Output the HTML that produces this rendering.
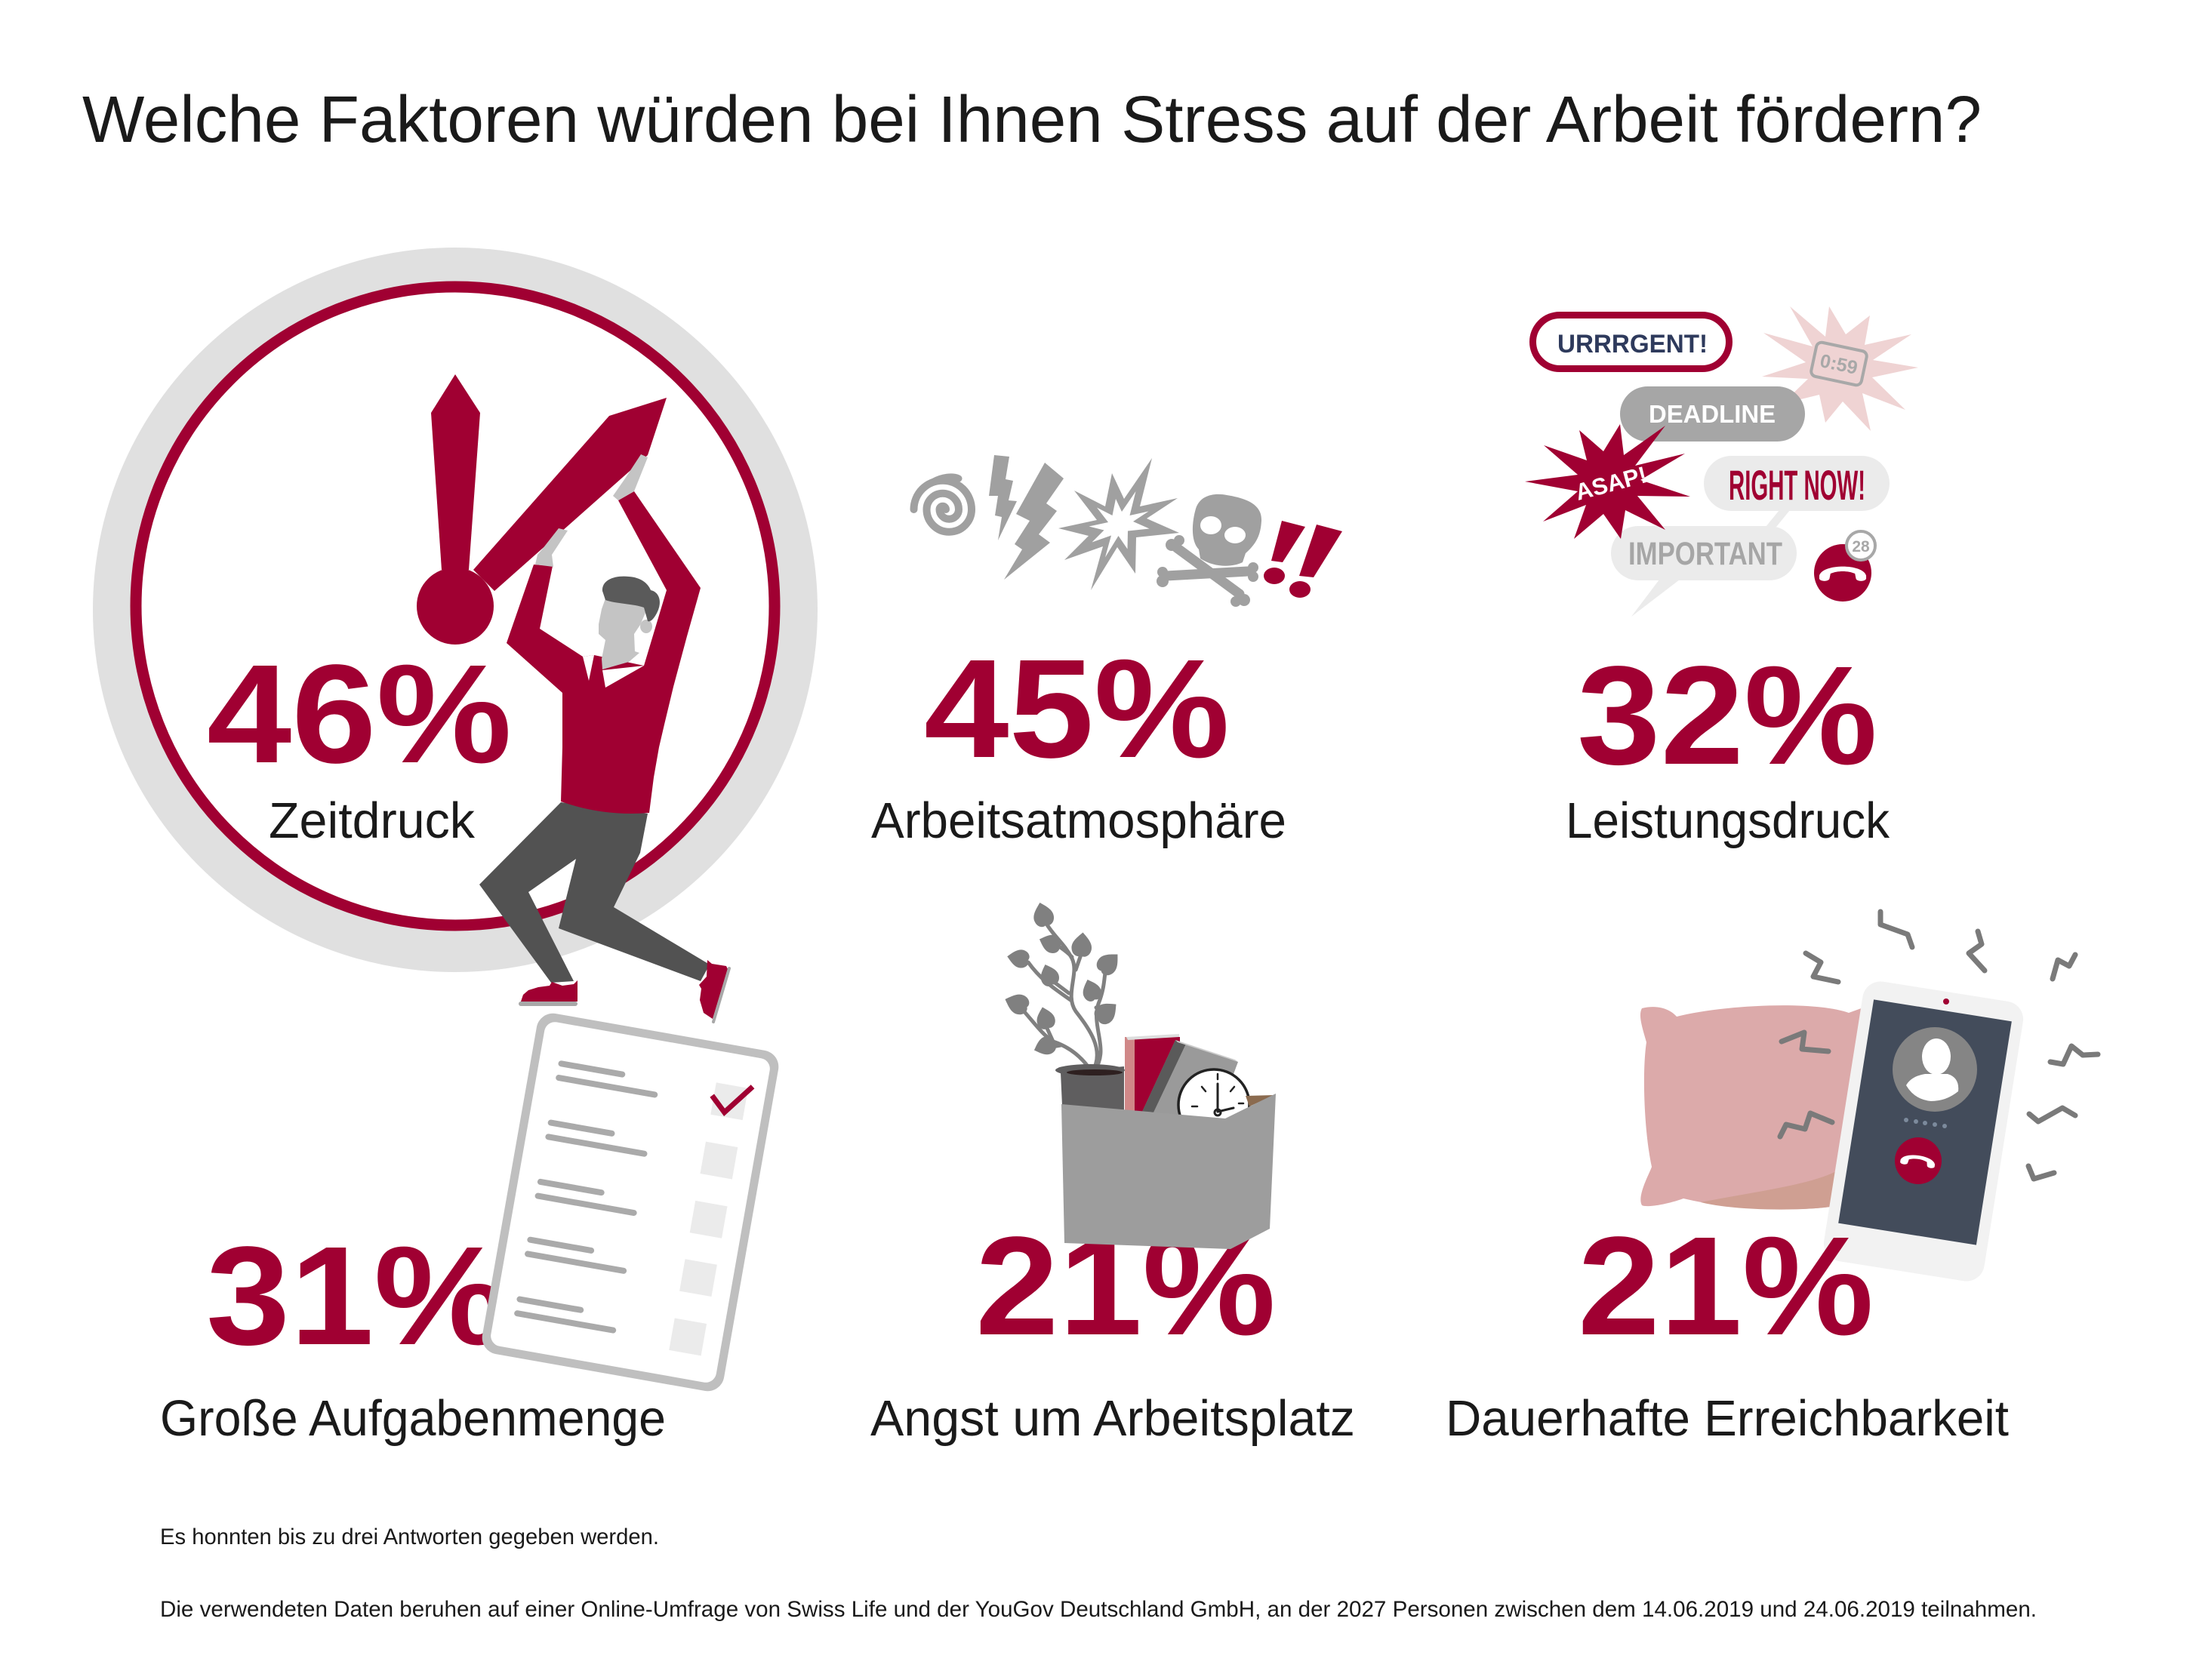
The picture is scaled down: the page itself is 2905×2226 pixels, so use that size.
<!DOCTYPE html>
<html>
<head>
<meta charset="utf-8">
<style>
html,body{margin:0;padding:0;background:#fff;}
svg{display:block;}
</style>
</head>
<body>
<svg width="2905" height="2226" viewBox="0 0 2905 2226" xmlns="http://www.w3.org/2000/svg">
<rect width="2905" height="2226" fill="#ffffff"/>

<!-- Title -->
<text x="109" y="188" font-family="'Liberation Sans', sans-serif" font-size="87" fill="#1a1a1a" textLength="2516" lengthAdjust="spacingAndGlyphs">Welche Faktoren würden bei Ihnen Stress auf der Arbeit fördern?</text>

<!-- ========== Clock circle (Zeitdruck) ========== -->
<circle cx="603" cy="808" r="480" fill="#e0e0e0"/>
<circle cx="603" cy="803" r="423" fill="#ffffff" stroke="#a00032" stroke-width="15"/>
<!-- clock hands -->
<polygon points="603,496 636,547 621,755 585,755 571,547" fill="#a00032"/>
<polygon points="627,755 807,551 883,527 858,603 655,783" fill="#a00032"/>
<circle cx="603" cy="803" r="51" fill="#a00032"/>

<text x="274" y="1010" font-family="'Liberation Sans', sans-serif" font-weight="bold" font-size="186" fill="#a00032" textLength="404" lengthAdjust="spacingAndGlyphs">46%</text>
<text x="356" y="1110" font-family="'Liberation Sans', sans-serif" font-size="67" fill="#1a1a1a" textLength="273" lengthAdjust="spacingAndGlyphs">Zeitdruck</text>

<!-- Man -->
<polygon points="743,1063 858,1078 848,1130 813,1202 940,1278 928,1300 740,1230 763,1138 700,1182 760,1300 730,1302 635,1172" fill="#525252"/>
<path d="M819,663 L840,651 L928,779 L910,843 L892,910 L880,960 L873,990 L866,1030 L860,1077 Q800,1082 743,1062 L745,990 L745,918 L671,852 L707,748 L732,750 L715,833 L772,870 L787,868 L853,882 L883,782 Z" fill="#a00032"/>
<!-- hands -->
<polygon points="812,657 819,663 840,651 858,606 849,602 828,634" fill="#c4c4c4"/>
<polygon points="709,748 733,751 731,735 752,703 740,700 718,728 712,735" fill="#c4c4c4"/>
<!-- face -->
<polygon points="802,793 853,803 855,812 848,828 840,840 841,863 847,865 833,877 798,887 797,873 802,848 793,840 793,827 797,807" fill="#c4c4c4"/>
<ellipse cx="856" cy="830" rx="8" ry="9" fill="#c4c4c4"/>
<path d="M798,783 C797,768 815,762 833,764 C848,765 858,772 862,782 C872,784 877,795 872,808 C868,818 862,825 858,823 L853,805 C840,800 815,800 802,795 Z" fill="#5a5a5a"/>
<!-- collar -->
<polygon points="772,870 787,868 780,902" fill="#ffffff"/>
<polygon points="798,888 853,882 802,911" fill="#ffffff"/>
<!-- shoes -->
<polygon points="690,1327 693,1318 700,1312 713,1308 728,1306 731,1301 745,1306 760,1304 765,1299 765,1327" fill="#a00032"/>
<rect x="687" y="1327" width="78" height="6" rx="3" fill="#a8a8a8"/>
<polygon points="937,1272 943,1277 962,1280 964,1284 944,1350 932,1342 927,1325 929,1310 926,1305 936,1294" fill="#a00032"/>
<line x1="966" y1="1283" x2="945" y2="1354" stroke="#a8a8a8" stroke-width="4" stroke-linecap="round"/>

<!-- ========== 31% + clipboard ========== -->
<text x="273" y="1781" font-family="'Liberation Sans', sans-serif" font-weight="bold" font-size="186" fill="#a00032" textLength="400" lengthAdjust="spacingAndGlyphs">31%</text>
<g transform="translate(835,1593) rotate(10)">
  <rect x="-162.5" y="-229" width="325" height="458" rx="22" fill="#bfbfbf"/>
  <rect x="-151.5" y="-218" width="303" height="436" rx="14" fill="#ffffff"/>
  <g stroke="#aaaaaa" stroke-width="8" stroke-linecap="round">
    <line x1="-122" y1="-165" x2="-40" y2="-165"/>
    <line x1="-122" y1="-146" x2="7" y2="-146"/>
    <line x1="-122" y1="-85.5" x2="-40" y2="-85.5"/>
    <line x1="-122" y1="-66.5" x2="7" y2="-66.5"/>
    <line x1="-122" y1="-6" x2="-40" y2="-6"/>
    <line x1="-122" y1="13" x2="7" y2="13"/>
    <line x1="-122" y1="72" x2="-40" y2="72"/>
    <line x1="-122" y1="91" x2="7" y2="91"/>
    <line x1="-122" y1="152" x2="-40" y2="152"/>
    <line x1="-122" y1="171" x2="7" y2="171"/>
  </g>
  <g fill="#ebebeb">
    <rect x="84.5" y="-176" width="43" height="43"/>
    <rect x="84.5" y="-96.5" width="43" height="43"/>
    <rect x="84.5" y="-17" width="43" height="43"/>
    <rect x="84.5" y="61.5" width="43" height="43"/>
    <rect x="84.5" y="141" width="43" height="43"/>
  </g>
  <polyline points="82,-158 102,-139 133,-179" fill="none" stroke="#a00032" stroke-width="7" stroke-linejoin="miter"/>
</g>
<text x="212" y="1902" font-family="'Liberation Sans', sans-serif" font-size="67" fill="#1a1a1a" textLength="670" lengthAdjust="spacingAndGlyphs">Große Aufgabenmenge</text>

<!-- ========== 45% icons ========== -->
<path d="M1253,675 A4.25,4.25 0 0 0 1244.5,675 A12.75,12.75 0 0 0 1270,675 A21.25,21.25 0 0 0 1227.5,675 A29.75,29.75 0 0 0 1287,675 A38.25,38.25 0 0 0 1210.5,675" fill="none" stroke="#a0a0a0" stroke-width="10" stroke-linecap="round"/>
<path d="M1237,638 C1248,632 1262,630 1270,634" fill="none" stroke="#a0a0a0" stroke-width="9" stroke-linecap="round"/>
<polygon points="1317,603 1337,605 1332,635 1342,637 1336,663 1347,664 1322,716 1327,685 1318,683 1322,657 1310,657" fill="#a0a0a0"/>
<polygon points="1384,613 1409,634 1386,667 1400,677 1376,708 1391,719 1330,768 1354,728 1344,721 1364,690 1346,681" fill="#a0a0a0"/>
<polygon points="1423,650 1464,671 1473,627 1489,661 1526,607 1510,671 1560,660 1519,687 1562,706 1505,712 1504,760 1480,725 1445,782 1461,724 1410,742 1442,710 1402,700 1453,689" fill="#a0a0a0"/>
<polygon points="1423,650 1464,671 1473,627 1489,661 1526,607 1510,671 1560,660 1519,687 1562,706 1505,712 1504,760 1480,725 1445,782 1461,724 1410,742 1442,710 1402,700 1453,689" fill="#ffffff" transform="translate(1483,695) scale(0.5) translate(-1483,-695)"/>
<!-- crossbones -->
<g stroke="#a0a0a0" stroke-width="13" stroke-linecap="round">
  <line x1="1559" y1="726" x2="1642" y2="787"/>
  <line x1="1545" y1="763" x2="1653" y2="757"/>
</g>
<g fill="#a0a0a0">
  <circle cx="1552" cy="722" r="8"/><circle cx="1562" cy="716" r="7"/>
  <circle cx="1540" cy="770" r="8"/><circle cx="1540" cy="758" r="7"/>
  <circle cx="1660" cy="752" r="7"/><circle cx="1660" cy="764" r="7"/>
  <circle cx="1648" cy="795" r="8"/><circle cx="1637" cy="797" r="7"/>
</g>
<path d="M1584,674 C1590,655 1610,653 1625,656 C1650,660 1672,668 1671,690 C1670,708 1665,720 1650,733 L1646,745 C1632,752 1608,752 1590,740 L1588,728 C1578,718 1578,695 1584,674 Z" fill="#a0a0a0"/>
<ellipse cx="1604" cy="696" rx="14" ry="12" fill="#ffffff"/>
<ellipse cx="1636" cy="709" rx="14" ry="11" fill="#ffffff"/>
<!-- !! -->
<polygon points="1698,690 1729,698 1699,745 1684,743" fill="#a00032"/>
<ellipse cx="1688" cy="763" rx="14" ry="11" fill="#a00032"/>
<polygon points="1744,695 1778,704 1740,765 1721,763" fill="#a00032"/>
<ellipse cx="1722" cy="781" rx="14" ry="11" fill="#a00032"/>

<text x="1224" y="1003" font-family="'Liberation Sans', sans-serif" font-weight="bold" font-size="186" fill="#a00032" textLength="405" lengthAdjust="spacingAndGlyphs">45%</text>
<text x="1154" y="1110" font-family="'Liberation Sans', sans-serif" font-size="67" fill="#1a1a1a" textLength="550" lengthAdjust="spacingAndGlyphs">Arbeitsatmosphäre</text>

<!-- ========== 32% bubbles ========== -->
<polygon points="2334,499 2392,480 2336,441 2401,459 2371,406 2418,446 2423,406 2445,443 2477,418 2470,457 2532,443 2481,477 2541,487 2480,500 2524,543 2467,521 2478,571 2441,532 2418,560 2410,523 2361,535 2395,502" fill="#efd3d3"/>
<g transform="translate(2436,482) rotate(12)">
  <rect x="-34" y="-23" width="68" height="46" rx="7" fill="none" stroke="#a8a8a8" stroke-width="4"/>
  <text x="0" y="9" text-anchor="middle" font-family="'Liberation Sans', sans-serif" font-weight="bold" font-size="25" fill="#a8a8a8">0:59</text>
</g>
<rect x="2030.5" y="417.5" width="260" height="71" rx="35.5" fill="#ffffff" stroke="#a00032" stroke-width="9"/>
<text x="2063" y="467" font-family="'Liberation Sans', sans-serif" font-weight="bold" font-size="34" fill="#2e3a5c" textLength="199" lengthAdjust="spacingAndGlyphs">URRRGENT!</text>
<rect x="2146" y="512" width="245" height="73" rx="36.5" fill="#a6a6a6"/>
<text x="2184" y="560" font-family="'Liberation Sans', sans-serif" font-weight="bold" font-size="33" fill="#ffffff" textLength="168" lengthAdjust="spacingAndGlyphs">DEADLINE</text>
<rect x="2257" y="604" width="246" height="73" rx="36.5" fill="#ebebeb"/>
<polygon points="2357,676 2371,676 2353,698 2339,698" fill="#ebebeb"/>
<text x="2290" y="662" font-family="'Liberation Sans', sans-serif" font-weight="bold" font-size="56" fill="#a00032" textLength="181" lengthAdjust="spacingAndGlyphs">RIGHT NOW!</text>
<rect x="2134" y="697" width="246" height="72" rx="36" fill="#ebebeb"/>
<polygon points="2198,768 2225,768 2161,817" fill="#ebebeb"/>
<text x="2157" y="748" font-family="'Liberation Sans', sans-serif" font-weight="bold" font-size="43" fill="#a6a6a6" textLength="204" lengthAdjust="spacingAndGlyphs">IMPORTANT</text>
<polygon points="2020,638 2090,629 2045,590 2102,610 2092,570 2124,598 2146,562 2151,603 2206,564 2166,617 2232,601 2173,636 2239,658 2169,657 2206,702 2153,676 2147,714 2124,681 2085,714 2101,669 2044,691 2090,651" fill="#a00032"/>
<text x="2134" y="651" text-anchor="middle" transform="rotate(-15 2134 640)" font-family="'Liberation Sans', sans-serif" font-weight="bold" font-size="31" fill="#ffffff">ASAP!</text>
<circle cx="2441" cy="759" r="38" fill="#a00032"/>
<path d="M-23,5 C-20,-7 20,-7 23,5 L23,8 C22,11 14,11 13,8 L12,3 C5,0 -5,0 -12,3 L-13,8 C-14,11 -22,11 -23,8 Z" fill="#ffffff" transform="translate(2441,756) scale(1.35)"/>
<circle cx="2465" cy="723" r="19" fill="#ffffff" stroke="#a8a8a8" stroke-width="4"/>
<text x="2465" y="731" text-anchor="middle" font-family="'Liberation Sans', sans-serif" font-weight="bold" font-size="21" fill="#a8a8a8">28</text>

<text x="2089" y="1012" font-family="'Liberation Sans', sans-serif" font-weight="bold" font-size="186" fill="#a00032" textLength="398" lengthAdjust="spacingAndGlyphs">32%</text>
<text x="2074" y="1110" font-family="'Liberation Sans', sans-serif" font-size="67" fill="#1a1a1a" textLength="429" lengthAdjust="spacingAndGlyphs">Leistungsdruck</text>

<!-- ========== 21% Angst: box with plant ========== -->
<text x="1292" y="1768" font-family="'Liberation Sans', sans-serif" font-weight="bold" font-size="186" fill="#a00032" textLength="398" lengthAdjust="spacingAndGlyphs">21%</text>
<!-- plant stems -->
<g fill="none" stroke="#808080" stroke-width="5" stroke-linecap="round">
  <path d="M1447,1420 C1465,1390 1440,1360 1425,1340 C1410,1318 1430,1290 1420,1270 C1410,1250 1395,1240 1385,1222"/>
  <path d="M1450,1418 C1470,1390 1445,1360 1455,1330 C1465,1305 1462,1290 1466,1280"/>
  <path d="M1446,1420 C1430,1395 1410,1385 1395,1380 C1380,1370 1370,1355 1352,1335"/>
  <path d="M1420,1268 C1410,1258 1400,1252 1395,1250"/>
  <path d="M1418,1325 C1400,1312 1380,1300 1362,1275"/>
  <path d="M1425,1285 L1433,1262"/>
  <path d="M1416,1316 L1392,1298"/>
  <path d="M1395,1380 L1385,1358"/>
  <path d="M1405,1385 L1388,1388"/>
  <path d="M1452,1335 L1464,1345"/>
  <path d="M1456,1320 L1448,1315"/>
</g>
<g fill="#808080">
  <path d="M0,-16 C6,-10 13,-4 12,4 C11,12 4,15 0,12 C-4,15 -11,12 -12,4 C-13,-4 -6,-10 0,-16Z" transform="translate(1382,1213) rotate(-15) scale(1.1)"/>
  <path d="M0,-16 C6,-10 13,-4 12,4 C11,12 4,15 0,12 C-4,15 -11,12 -12,4 C-13,-4 -6,-10 0,-16Z" transform="translate(1433,1253) rotate(5) scale(1.1)"/>
  <path d="M0,-16 C6,-10 13,-4 12,4 C11,12 4,15 0,12 C-4,15 -11,12 -12,4 C-13,-4 -6,-10 0,-16Z" transform="translate(1392,1250) rotate(-70) scale(1.0)"/>
  <path d="M0,-16 C6,-10 13,-4 12,4 C11,12 4,15 0,12 C-4,15 -11,12 -12,4 C-13,-4 -6,-10 0,-16Z" transform="translate(1350,1270) rotate(-80) scale(1.0)"/>
  <path d="M0,-16 C6,-10 13,-4 12,4 C11,12 4,15 0,12 C-4,15 -11,12 -12,4 C-13,-4 -6,-10 0,-16Z" transform="translate(1390,1293) rotate(-20) scale(1.0)"/>
  <path d="M0,-16 C6,-10 13,-4 12,4 C11,12 4,15 0,12 C-4,15 -11,12 -12,4 C-13,-4 -6,-10 0,-16Z" transform="translate(1468,1277) rotate(45) scale(1.1)"/>
  <path d="M0,-16 C6,-10 13,-4 12,4 C11,12 4,15 0,12 C-4,15 -11,12 -12,4 C-13,-4 -6,-10 0,-16Z" transform="translate(1446,1313) rotate(-20) scale(1.0)"/>
  <path d="M0,-16 C6,-10 13,-4 12,4 C11,12 4,15 0,12 C-4,15 -11,12 -12,4 C-13,-4 -6,-10 0,-16Z" transform="translate(1348,1330) rotate(-70) scale(1.1)"/>
  <path d="M0,-16 C6,-10 13,-4 12,4 C11,12 4,15 0,12 C-4,15 -11,12 -12,4 C-13,-4 -6,-10 0,-16Z" transform="translate(1385,1350) rotate(-15) scale(1.0)"/>
  <path d="M0,-16 C6,-10 13,-4 12,4 C11,12 4,15 0,12 C-4,15 -11,12 -12,4 C-13,-4 -6,-10 0,-16Z" transform="translate(1465,1342) rotate(50) scale(1.1)"/>
  <path d="M0,-16 C6,-10 13,-4 12,4 C11,12 4,15 0,12 C-4,15 -11,12 -12,4 C-13,-4 -6,-10 0,-16Z" transform="translate(1385,1386) rotate(-110) scale(1.0)"/>
</g>
<!-- pot -->
<polygon points="1405,1421 1489,1413 1489,1472 1407,1465" fill="#5f5e5f"/>
<ellipse cx="1444" cy="1418" rx="46" ry="8" fill="#5f5e5f"/>
<ellipse cx="1450" cy="1421" rx="37" ry="4" fill="#2e2020"/>
<!-- red book -->
<rect x="1490" y="1374" width="73" height="103" fill="#a00032"/>
<rect x="1490" y="1374" width="13" height="103" fill="#d08888"/>
<polygon points="1492,1374 1562,1370 1562,1374 1494,1378" fill="#dddddd"/>
<!-- gray book -->
<polygon points="1557,1378 1640,1407 1612,1482 1513,1473" fill="#9a9a9a"/>
<polygon points="1557,1378 1571,1383 1527,1476 1513,1473" fill="#5a5a5a"/>
<polygon points="1557,1378 1636,1404 1640,1407 1560,1381" fill="#cccccc"/>
<!-- clock -->
<circle cx="1608" cy="1464" r="47" fill="#ffffff" stroke="#222222" stroke-width="3.5"/>
<g stroke="#222222" stroke-width="2.5" stroke-linecap="round">
  <line x1="1613" y1="1423" x2="1613" y2="1430"/>
  <line x1="1592" y1="1440" x2="1597" y2="1446"/>
  <line x1="1635" y1="1440" x2="1630" y2="1446"/>
  <line x1="1579" y1="1466" x2="1586" y2="1466"/>
  <line x1="1641" y1="1462" x2="1647" y2="1462"/>
</g>
<g stroke="#222222" stroke-width="3" stroke-linecap="round" fill="none">
  <line x1="1613" y1="1473" x2="1613" y2="1436"/>
  <line x1="1613" y1="1473" x2="1634" y2="1468"/>
  <circle cx="1613" cy="1474" r="4"/>
</g>
<!-- box -->
<polygon points="1650,1452 1688,1451 1655,1466" fill="#8b6b4f"/>
<polygon points="1406,1463 1623,1482 1690,1449 1682,1628 1630,1655 1410,1647" fill="#9d9d9d"/>
<text x="1153" y="1902" font-family="'Liberation Sans', sans-serif" font-size="67" fill="#1a1a1a" textLength="642" lengthAdjust="spacingAndGlyphs">Angst um Arbeitsplatz</text>

<!-- ========== 21% Dauerhafte: pillow + phone ========== -->
<path d="M2175,1336 C2200,1330 2215,1340 2221,1347 C2280,1332 2400,1325 2449,1342 L2471,1334 L2471,1600 L2436,1597 C2400,1605 2300,1605 2230,1588 C2205,1597 2180,1600 2175,1597 C2168,1585 2185,1555 2188,1546 C2178,1500 2175,1420 2181,1381 C2175,1360 2170,1345 2175,1336 Z" fill="#dcaaaa"/>
<path d="M2253,1593 C2330,1578 2400,1570 2436,1550 L2436,1597 C2400,1605 2300,1605 2253,1593 Z" fill="#cf9f92"/>
<g fill="none" stroke="#7a7a7a" stroke-width="7" stroke-linecap="round" stroke-linejoin="round">
  <polyline points="2392,1263 2412,1275 2402,1294 2435,1301"/>
  <polyline points="2491,1208 2491,1225 2527,1238 2533,1255"/>
  <polyline points="2620,1234 2625,1251 2608,1263 2629,1286"/>
  <polyline points="2719,1297 2726,1272 2741,1280 2749,1265"/>
  <polyline points="2360,1380 2390,1368 2387,1390 2422,1393"/>
  <polyline points="2358,1506 2366,1490 2391,1496 2398,1475 2427,1487"/>
  <polyline points="2716,1407 2733,1410 2744,1386 2759,1398 2779,1397"/>
  <polyline points="2688,1476 2700,1486 2732,1468 2749,1478"/>
  <polyline points="2687,1545 2694,1562 2721,1554"/>
</g>
<g transform="translate(2548,1499) rotate(9)">
  <rect x="-107.5" y="-187.5" width="215" height="375" rx="24" fill="#f2f2f2"/>
</g>
<g transform="translate(2550,1487) rotate(9)">
  <rect x="-92.5" y="-150" width="185" height="300" fill="#434c5b"/>
</g>
<circle cx="2578" cy="1327" r="4" fill="#a00032"/>
<circle cx="2563" cy="1417" r="56" fill="#858585"/>
<ellipse cx="2565" cy="1400" rx="19" ry="24" fill="#ffffff"/>
<path d="M2525,1438 Q2532,1426 2550,1423 L2580,1423 Q2596,1428 2594,1446 Q2578,1459 2558,1459 Q2536,1457 2525,1438 Z" fill="#ffffff"/>
<g fill="#7c8a9c">
  <circle cx="2525" cy="1484" r="3"/><circle cx="2538" cy="1486" r="3"/><circle cx="2550" cy="1488" r="3"/><circle cx="2563" cy="1490" r="3"/><circle cx="2576" cy="1492" r="3"/>
</g>
<circle cx="2541" cy="1538" r="31" fill="#a00032"/>
<path d="M-23,5 C-20,-7 20,-7 23,5 L23,8 C22,11 14,11 13,8 L12,3 C5,0 -5,0 -12,3 L-13,8 C-14,11 -22,11 -23,8 Z" fill="#ffffff" transform="translate(2541,1535) rotate(8)"/>

<text x="2090" y="1768" font-family="'Liberation Sans', sans-serif" font-weight="bold" font-size="186" fill="#a00032" textLength="392" lengthAdjust="spacingAndGlyphs">21%</text>
<text x="1915" y="1902" font-family="'Liberation Sans', sans-serif" font-size="67" fill="#1a1a1a" textLength="746" lengthAdjust="spacingAndGlyphs">Dauerhafte Erreichbarkeit</text>

<!-- Footnotes -->
<text x="212" y="2046" font-family="'Liberation Sans', sans-serif" font-size="30" fill="#1a1a1a" textLength="661" lengthAdjust="spacingAndGlyphs">Es honnten bis zu drei Antworten gegeben werden.</text>
<text x="212" y="2142" font-family="'Liberation Sans', sans-serif" font-size="30" fill="#1a1a1a" textLength="2486" lengthAdjust="spacingAndGlyphs">Die verwendeten Daten beruhen auf einer Online-Umfrage von Swiss Life und der YouGov Deutschland GmbH, an der 2027 Personen zwischen dem 14.06.2019 und 24.06.2019 teilnahmen.</text>
</svg>
</body>
</html>
